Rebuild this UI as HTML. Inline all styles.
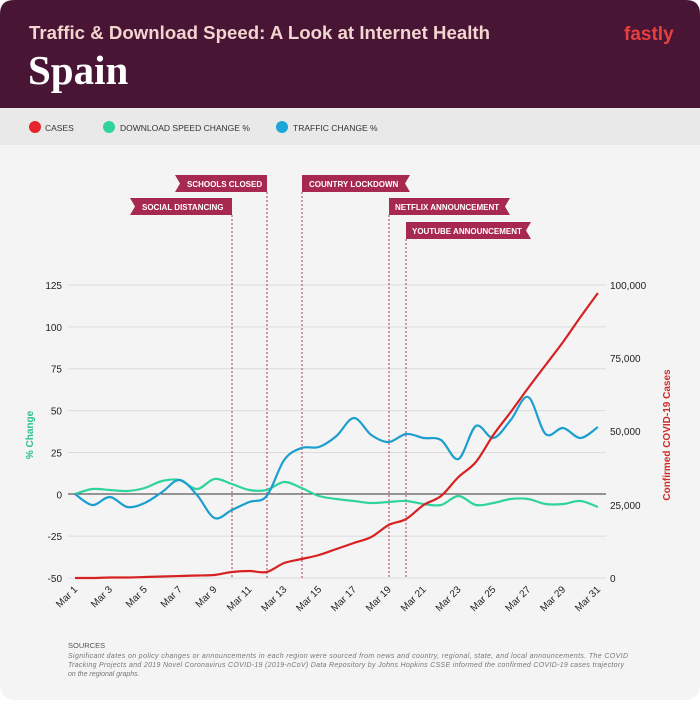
<!DOCTYPE html>
<html><head><meta charset="utf-8"><style>
body{margin:0;width:700px;height:700px;background:#fff;font-family:"Liberation Sans",sans-serif;overflow:hidden}
</style></head><body>
<svg id="s" width="700" height="700" viewBox="0 0 700 700" xmlns="http://www.w3.org/2000/svg" font-family="Liberation Sans, sans-serif">
<rect x="0" y="0" width="700" height="700" rx="14" fill="#f4f4f4"/>
<path d="M0 14 Q0 0 14 0 H686 Q700 0 700 14 V108 H0Z" fill="#481535"/>
<rect x="0" y="108" width="700" height="37" fill="#e9e9e9"/>
<text x="29" y="39" fill="#f3d5cf" font-size="18.6" font-weight="bold" textLength="461">Traffic &amp; Download Speed: A Look at Internet Health</text>
<text x="28" y="84" fill="#fff" font-size="41" font-weight="bold" font-family="Liberation Serif, serif">Spain</text>
<text x="624" y="40" fill="#e8403f" font-size="19" font-weight="bold">fastly</text>
<circle cx="35" cy="127" r="6" fill="#e4262c"/><text x="45" y="131" font-size="8.5" fill="#333">CASES</text>
<circle cx="109" cy="127" r="6" fill="#2fd39d"/><text x="120" y="131" font-size="8.5" fill="#333">DOWNLOAD SPEED CHANGE %</text>
<circle cx="282" cy="127" r="6" fill="#1da6d8"/><text x="293" y="131" font-size="8.5" fill="#333">TRAFFIC CHANGE %</text>
<g id="grid" stroke="#dcdcdc" stroke-width="1"></g>
<line x1="68" y1="494" x2="606" y2="494" stroke="#333" stroke-width="1"/>
<g id="vl" stroke="#b03a55" stroke-width="1" stroke-dasharray="2,2"></g>
<g font-size="8" font-weight="bold" fill="#fff">
<path d="M175 175H267V192H175L180 183.5Z" fill="#a8294f"/><text x="187" y="187">SCHOOLS CLOSED</text>
<path d="M130 198H232V215H130L135 206.5Z" fill="#a8294f"/><text x="142" y="210">SOCIAL DISTANCING</text>
<path d="M302 175H410L405 183.5L410 192H302Z" fill="#a8294f"/><text x="309" y="187">COUNTRY LOCKDOWN</text>
<path d="M389 198H510L505 206.5L510 215H389Z" fill="#a8294f"/><text x="395" y="210">NETFLIX ANNOUNCEMENT</text>
<path d="M406 222H531L526 230.5L531 239H406Z" fill="#a8294f"/><text x="412" y="234">YOUTUBE ANNOUNCEMENT</text>
</g>
<g id="lab" font-size="10" fill="#222"></g>
<text transform="translate(33,435) rotate(-90)" text-anchor="middle" font-size="10" font-weight="bold" fill="#2fbf8e">% Change</text>
<text transform="translate(670,435) rotate(-90)" text-anchor="middle" font-size="10" font-weight="bold" fill="#d22a2a">Confirmed COVID-19 Cases</text>
<path id="g" fill="none" stroke="#2fd39d" stroke-width="2.2"/>
<path id="b" fill="none" stroke="#1c9fcf" stroke-width="2.2"/>
<path id="r" fill="none" stroke="#d62222" stroke-width="2.2"/>
<text x="68" y="648" font-size="7.5" fill="#555">SOURCES</text>
<g font-size="7" font-style="italic" fill="#777">
<text x="68" y="658" textLength="560">Significant dates on policy changes or announcements in each region were sourced from news and country, regional, state, and local announcements. The COVID</text>
<text x="68" y="667" textLength="556">Tracking Projects and 2019 Novel Coronavirus COVID-19 (2019-nCoV) Data Repository by Johns Hopkins CSSE informed the confirmed COVID-19 cases trajectory</text>
<text x="68" y="676">on the regional graphs.</text>
</g>
</svg>
<script>
var NS="http://www.w3.org/2000/svg";
function el(p,t,a,txt){var e=document.createElementNS(NS,t);for(var k in a)e.setAttribute(k,a[k]);if(txt)e.textContent=txt;document.getElementById(p).appendChild(e);}
var lv=["125","100","75","50","25","0","-25","-50"];
var ry=[285,358,431,505,578];var rl=["100,000","75,000","50,000","25,000","0"];
for(var i=0;i<8;i++){var y=285+i*41.86;if(i!=5)el("grid","line",{x1:68,x2:606,y1:y,y2:y});el("lab","text",{x:62,y:y+4,"text-anchor":"end"},lv[i]);}
for(i=0;i<5;i++)el("lab","text",{x:610,y:ry[i]+4},rl[i]);
function X(d){return 75+(d-1)*17.43;}
for(d=1;d<=31;d+=2){var x=X(d);el("lab","text",{x:x+3,y:590,"text-anchor":"end",transform:"rotate(-45 "+(x+3)+" 590)"},"Mar "+d);}
[232,267,302,389,406].forEach(function(x,i){var t=[215,192,192,215,239][i];el("vl","line",{x1:x,x2:x,y1:t,y2:578});});
function path(ys){var p=ys.map(function(y,i){return[X(i+1),y]});var s="M"+p[0][0]+" "+p[0][1];
for(var i=0;i<p.length-1;i++){var p0=p[Math.max(0,i-1)],p1=p[i],p2=p[i+1],p3=p[Math.min(p.length-1,i+2)];
s+=" C"+(p1[0]+(p2[0]-p0[0])/6)+" "+(p1[1]+(p2[1]-p0[1])/6)+" "+(p2[0]-(p3[0]-p1[0])/6)+" "+(p2[1]-(p3[1]-p1[1])/6)+" "+p2[0]+" "+p2[1];}return s;}
var B=[494,505,497,507,503,492,480,495,518,510,502,496,460,448,447,436,418,435,442,434,438,440,459,426,438,420,397,434,428,438,427];
var G=[494,489,490,491,488,481,480,489,479,484,490,490,482,488,496,499,501,503,502,501,504,505,496,505,503,499,499,504,504,501,507];
var R=[578,578,577.5,577.5,577,576.5,576,575.5,575,572,571,572,563,559,555,549,543,537,525,519,505,496,477,462,435,412,388,365,342,317,293];
document.getElementById("g").setAttribute("d",path(G));
document.getElementById("b").setAttribute("d",path(B));
document.getElementById("r").setAttribute("d",path(R));
</script>
</body></html>
